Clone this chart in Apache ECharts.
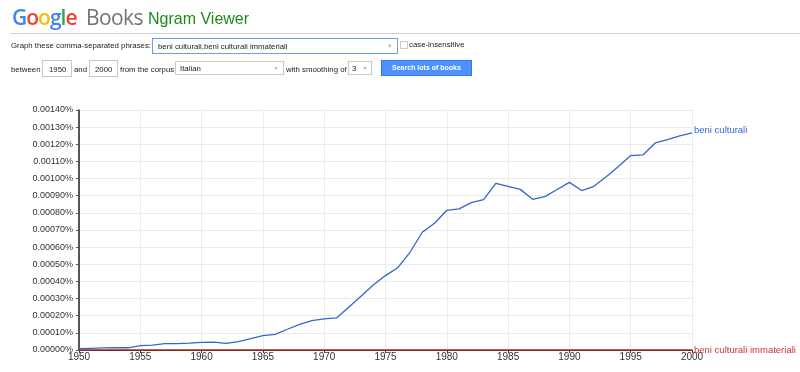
<!DOCTYPE html>
<html><head><meta charset="utf-8">
<script src="https://cdn.jsdelivr.net/npm/echarts@6/dist/echarts.min.js"></script>
<style>
html,body{margin:0;padding:0;width:800px;height:372px;overflow:hidden;background:#fff;font-family:"Liberation Sans",Arial,sans-serif;}
#chart{position:absolute;left:0;top:0;width:800px;height:372px;}
.hdr{position:absolute;white-space:nowrap;}
.t{position:absolute;font-size:7.8px;color:#222;white-space:nowrap;}
.box{position:absolute;border:1px solid #c8c8c8;background:#fff;font-size:7.8px;color:#222;box-sizing:border-box;white-space:nowrap;}
</style></head><body>
<div id="chart"></div>
<div class="hdr" style="left:12px;top:2px;font-family:'Open Sans','Liberation Sans',sans-serif;font-weight:600;font-size:21px;letter-spacing:-1px;line-height:30px;"><span style="color:#4285f4">G</span><span style="color:#ea4335">o</span><span style="color:#fbbc05">o</span><span style="color:#4285f4">g</span><span style="color:#34a853">l</span><span style="color:#ea4335">e</span></div>
<div class="hdr" style="left:86px;top:2px;font-family:'Open Sans','Liberation Sans',sans-serif;font-size:21px;letter-spacing:-0.6px;line-height:30px;color:#737373;">Books</div>
<div class="hdr" style="left:148px;top:9px;font-size:16px;color:#1e8a1e;line-height:20px;font-family:'Liberation Sans',Arial,sans-serif;">Ngram Viewer</div>
<div style="position:absolute;left:10px;top:33px;width:790px;height:1px;background:#d0d0d0;"></div>
<div class="t" style="left:11px;top:41px;">Graph these comma-separated phrases:</div>
<div class="box" style="left:152px;top:38px;width:246px;height:16px;border-color:#6d9eeb;padding:3px 0 0 5px;">beni culturali,beni culturali immateriali<span style="position:absolute;right:5px;top:3px;color:#bbb;font-size:7px;">&#9662;</span></div>
<div style="position:absolute;left:400px;top:41px;width:8px;height:8px;border:1px solid #ccc;box-sizing:border-box;"></div>
<div class="t" style="left:409px;top:40px;">case-insensitive</div>
<div class="t" style="left:11px;top:65px;">between</div>
<div class="box" style="left:42px;top:60px;width:30px;height:17px;padding:4px 0 0 6px;">1950</div>
<div class="t" style="left:74px;top:65px;">and</div>
<div class="box" style="left:89px;top:60px;width:29px;height:17px;padding:4px 0 0 5px;">2000</div>
<div class="t" style="left:120px;top:65px;">from the corpus</div>
<div class="box" style="left:175px;top:61px;width:109px;height:14px;padding:2px 0 0 4px;">Italian<span style="position:absolute;right:4px;top:1px;color:#666;font-size:7px;">&#8964;</span></div>
<div class="t" style="left:286px;top:65px;">with smoothing of</div>
<div class="box" style="left:348px;top:61px;width:24px;height:14px;padding:2px 0 0 3px;">3<span style="position:absolute;right:3px;top:1px;color:#666;font-size:7px;">&#8964;</span></div>
<div style="position:absolute;left:381px;top:60px;width:91px;height:16px;background:#4d90fe;border:1px solid #3079ed;box-sizing:border-box;color:#fff;font-size:7px;font-weight:bold;text-align:center;line-height:14px;">Search lots of books</div>
<script>
var years = [1950,1951,1952,1953,1954,1955,1956,1957,1958,1959,1960,1961,1962,1963,1964,1965,1966,1967,1968,1969,1970,1971,1972,1973,1974,1975,1976,1977,1978,1979,1980,1981,1982,1983,1984,1985,1986,1987,1988,1989,1990,1991,1992,1993,1994,1995,1996,1997,1998,1999,2000];
var beniCulturali = [0.000008,0.000010,0.000012,0.000013,0.000013,0.000025,0.000029,0.000037,0.000037,0.000040,0.000045,0.000046,0.000039,0.000049,0.000066,0.000084,0.000091,0.000121,0.000150,0.000171,0.000181,0.000187,0.000250,0.000313,0.000379,0.000434,0.000480,0.000570,0.000687,0.000739,0.000815,0.000823,0.000860,0.000877,0.000972,0.000955,0.000937,0.000879,0.000895,0.000936,0.000978,0.000930,0.000955,0.001010,0.001070,0.001134,0.001138,0.001208,0.001227,0.001249,0.001266];
var beniCulturaliImmateriali = [0,0,0,0,0,0,0,0,0,0,0,0,0,0,0,0,0,0,0,0,0,0,0,0,0,0,0,0,0,0,0,0,0,0,0,0,0,0,0,0,0,0,0,0,0,0,0,0,0,0,0];
var seriesNames = ['beni culturali','beni culturali immateriali'];
function pairs(v){return years.map(function(y,i){return [y,v[i]];});}
var chart = echarts.init(document.getElementById('chart'));
var font = '"Liberation Sans",Arial,sans-serif';
chart.setOption({
  animation:false,
  grid:{left:79,right:108,top:110,bottom:22,containLabel:false},
  xAxis:{type:'value',min:1950,max:2000,interval:5,
    axisLine:{show:true,onZero:false,lineStyle:{color:'#333',width:1}},
    axisTick:{show:true,length:3,lineStyle:{color:'#333'}},
    axisLabel:{color:'#333',fontSize:10,fontFamily:font,margin:2,formatter:function(v){return String(v);}},
    splitLine:{show:true,lineStyle:{color:'#ebebeb'}}},
  yAxis:{type:'value',min:0,max:0.0014,interval:0.0001,
    axisLine:{show:true,lineStyle:{color:'#222',width:1.5}},
    axisTick:{show:true,length:3,lineStyle:{color:'#555'}},
    axisLabel:{color:'#333',fontSize:9,fontFamily:font,margin:6,formatter:function(v){return v.toFixed(5)+'%';}},
    splitLine:{show:true,lineStyle:{color:'#ebebeb'}}},
  series:[
    {name:seriesNames[0],type:'line',data:pairs(beniCulturali),showSymbol:false,
     lineStyle:{color:'#3366cc',width:1.3},itemStyle:{color:'#3366cc'},
     endLabel:{show:true,formatter:'{a}',color:'#3366cc',fontSize:9.5,fontFamily:font,distance:2,offset:[0,-3]}},
    {name:seriesNames[1],type:'line',data:pairs(beniCulturaliImmateriali),showSymbol:false,
     lineStyle:{color:'#b3261e',width:1.5},itemStyle:{color:'#b3261e'},
     endLabel:{show:true,formatter:'{a}',color:'#cc3333',fontSize:9.5,fontFamily:font,distance:2}}
  ]
});
</script>
</body></html>
